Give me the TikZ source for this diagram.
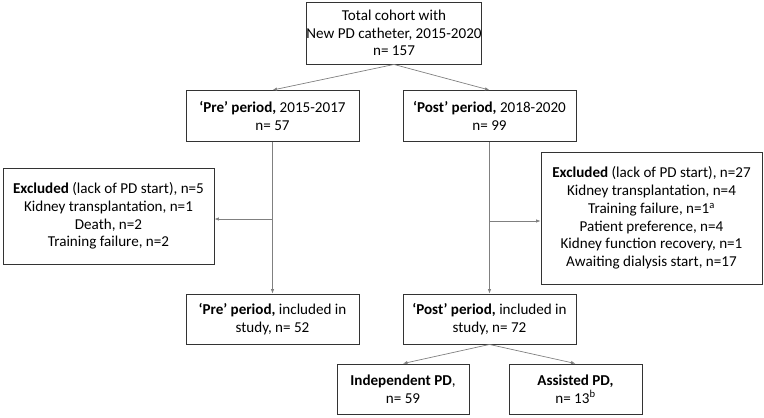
\documentclass[tikz,border=0pt]{standalone}
\usepackage{fontspec}
\setmainfont{Carlito}
\usetikzlibrary{arrows.meta}
\definecolor{boxline}{HTML}{333333}
\definecolor{conn}{HTML}{808080}
\begin{document}
\begin{tikzpicture}[x=1pt,y=-1pt,
  box/.style={draw=boxline,line width=0.9pt,align=center,inner sep=0pt,
    font=\fontsize{15.1}{17.8}\selectfont},
  conn/.style={draw=conn,line width=0.7pt,-{Latex[length=4.5pt,width=3.5pt]}},
  plain/.style={draw=conn,line width=0.7pt}]
\useasboundingbox (0,0) rectangle (764,418);
\node[box,minimum width=174pt,minimum height=62pt] (top) at (394,33)
  {Total cohort with\\ New PD catheter, 2015-2020\\ n= 157};
\node[box,minimum width=173pt,minimum height=51pt] (pre) at (272.5,116)
  {\textbf{‘Pre’ period,} 2015-2017\\ n= 57};
\node[box,minimum width=173pt,minimum height=51pt] (post) at (489.5,116)
  {\textbf{‘Post’ period,} 2018-2020\\ n= 99};
\node[box,minimum width=211pt,minimum height=96pt] (lexc) at (108.5,216)
  {\textbf{Excluded} (lack of PD start), n=5\\ Kidney transplantation, n=1\\ Death, n=2\\ Training failure, n=2};
\node[box,minimum width=221pt,minimum height=132pt] (rexc) at (651.5,218)
  {\textbf{Excluded} (lack of PD start), n=27\\ Kidney transplantation, n=4\\ Training failure, n=1\textsuperscript{a}\\ Patient preference, n=4\\ Kidney function recovery, n=1\\ Awaiting dialysis start, n=17};
\node[box,minimum width=173pt,minimum height=50pt] (preinc) at (272.5,319)
  {\textbf{‘Pre’ period,} included in\\ study, n= 52};
\node[box,minimum width=173pt,minimum height=50pt] (postinc) at (489.5,319)
  {\textbf{‘Post’ period,} included in\\ study, n= 72};
\node[box,minimum width=132pt,minimum height=50pt] (indep) at (403,389)
  {\textbf{Independent PD},\\ n= 59};
\node[box,minimum width=133pt,minimum height=50pt] (assist) at (575.5,389)
  {\textbf{Assisted PD,}\\ n= 13\textsuperscript{b}};
\draw[conn] (top.south) -- (pre.north);
\draw[conn] (top.south) -- (post.north);
\draw[conn] (pre.south) -- (preinc.north);
\draw[conn] (post.south) -- (postinc.north);
\coordinate (lj) at (pre.south |- 0,219);
\coordinate (rj) at (post.south |- 0,221);
\draw[conn] (lj) -- (lexc.east |- lj);
\draw[conn] (rj) -- (rexc.west |- rj);
\draw[conn] (postinc.south) -- (indep.north);
\draw[conn] (postinc.south) -- (assist.north);
\end{tikzpicture}
\end{document}
